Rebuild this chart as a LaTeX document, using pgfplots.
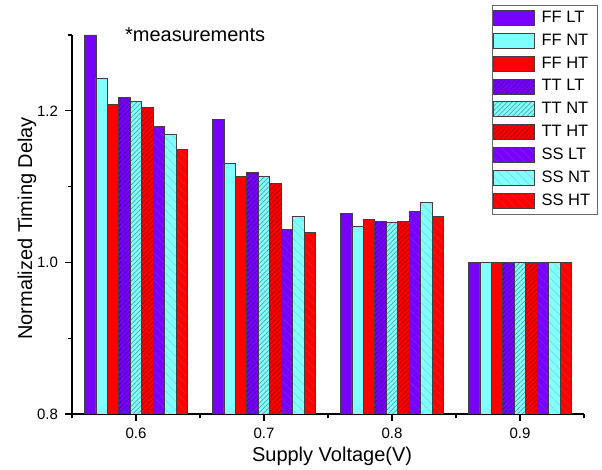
\documentclass[border=0pt]{standalone}
\usepackage{fontspec}
\setmainfont{Liberation Sans}
\usepackage{pgfplots}
\pgfplotsset{compat=1.18}
\usetikzlibrary{patterns.meta}

\definecolor{cViolet}{HTML}{7800FF}
\definecolor{cCyan}{HTML}{80FFFF}
\definecolor{cRed}{HTML}{FF0000}

\pgfplotsset{
  ffbar/.style={fill=#1, draw=black!75, line width=0.4pt},
  ttbar/.style={fill=#1, draw=black!75, line width=0.4pt,
    postaction={pattern={Lines[angle=45,distance=1.7pt,line width=0.35pt]}, pattern color=#1!65!black}},
  ssbar/.style={fill=#1, draw=black!75, line width=0.4pt,
    postaction={pattern={Lines[angle=-45,distance=3.2pt,line width=0.35pt]}, pattern color=#1!70!gray}},
}

\begin{document}
\begin{tikzpicture}
\path[use as bounding box] (-36pt,-28pt) rectangle (265pt,207pt);
\begin{axis}[
    at={(0pt,0pt)}, anchor=south west,
    scale only axis,
    width=256pt, height=189.5pt,
    ybar=0pt,
    bar width=5.72pt,
    clip mode=individual,
    xmin=0.55, xmax=0.95,
    ymin=0.8, ymax=1.3,
    axis lines=left,
    axis line style={-, line width=0.6pt},
    xtick pos=bottom, ytick pos=left,
    xtick={0.6,0.7,0.8,0.9},
    minor xtick={0.55,0.65,0.75,0.85,0.95},
    ytick={0.8,1.0,1.2},
    minor ytick={0.9,1.1,1.3},
    tick align=outside,
    major tick length=3.5pt,
    minor tick length=2.2pt,
    tick style={black, line width=0.6pt},
    /pgf/number format/assume math mode=true,
    xticklabel style={/pgf/number format/.cd, fixed, precision=1, fixed zerofill},
    yticklabel style={/pgf/number format/.cd, fixed, precision=1, fixed zerofill},
    tick label style={font=\fontsize{7.5}{9}\selectfont},
    xlabel={Supply Voltage(V)},
    ylabel={Normalized Timing Delay},
    label style={font=\fontsize{10}{12}\selectfont},
    every axis x label/.style={at={(axis description cs:0.508,-0.113)}, anchor=center},
    every axis y label/.style={at={(axis description cs:-0.088,0.49)}, rotate=90, anchor=center},
    legend image code/.code={\draw[#1] (0pt,-3.75pt) rectangle (20.5pt,3.75pt);},
    legend cell align=left,
    legend style={at={(axis description cs:1.0273,1.0797)}, anchor=north east,
      draw=black!60, line width=0.4pt, fill=white,
      font=\fontsize{8.25}{9}\selectfont,
      row sep=2.2pt, inner xsep=0.5pt, inner ysep=2pt,
      nodes={inner xsep=3.2pt, inner ysep=1pt}},
]
\addplot[ffbar=cViolet] coordinates {(0.6,1.300) (0.7,1.188) (0.8,1.065) (0.9,1.0)};
\addplot[ffbar=cCyan]   coordinates {(0.6,1.243) (0.7,1.130) (0.8,1.048) (0.9,1.0)};
\addplot[ffbar=cRed]    coordinates {(0.6,1.208) (0.7,1.113) (0.8,1.057) (0.9,1.0)};
\addplot[ttbar=cViolet] coordinates {(0.6,1.218) (0.7,1.119) (0.8,1.054) (0.9,1.0)};
\addplot[ttbar=cCyan]   coordinates {(0.6,1.212) (0.7,1.114) (0.8,1.053) (0.9,1.0)};
\addplot[ttbar=cRed]    coordinates {(0.6,1.204) (0.7,1.104) (0.8,1.054) (0.9,1.0)};
\addplot[ssbar=cViolet] coordinates {(0.6,1.179) (0.7,1.044) (0.8,1.067) (0.9,1.0)};
\addplot[ssbar=cCyan]   coordinates {(0.6,1.169) (0.7,1.061) (0.8,1.079) (0.9,1.0)};
\addplot[ssbar=cRed]    coordinates {(0.6,1.149) (0.7,1.040) (0.8,1.061) (0.9,1.0)};
\legend{FF LT, FF NT, FF HT, TT LT, TT NT, TT HT, SS LT, SS NT, SS HT}
\node[anchor=base west, font=\fontsize{10}{12}\selectfont] at (rel axis cs:0.09,0.982) {*measurements};
\end{axis}
\end{tikzpicture}
\end{document}
